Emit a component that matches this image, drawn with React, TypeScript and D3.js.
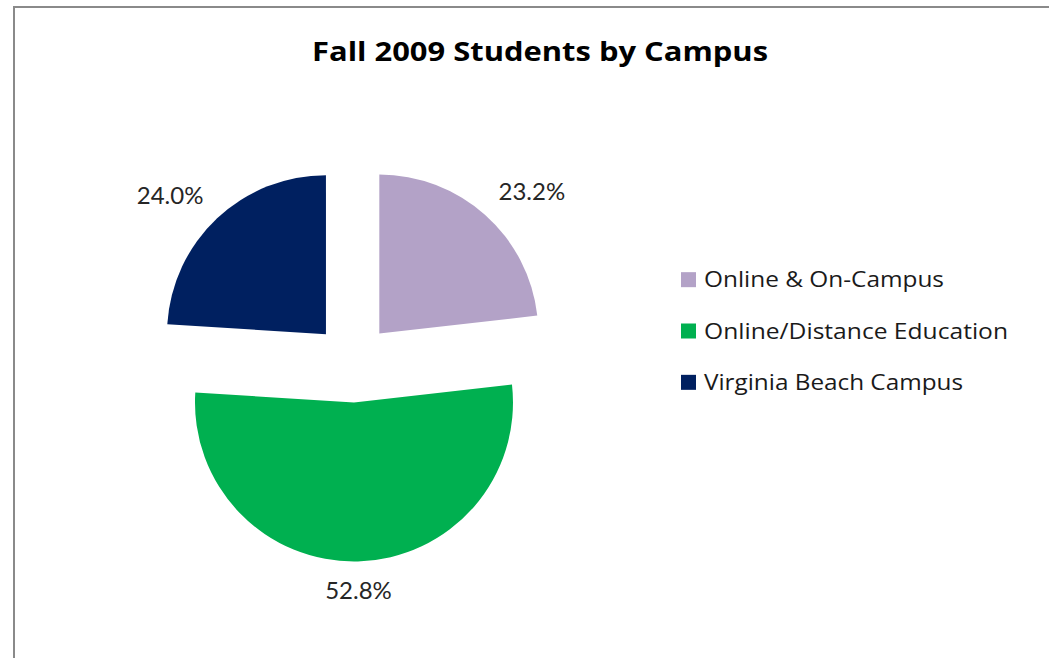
import React from "react";
import * as d3 from "d3";

const categories = ["Online & On-Campus", "Online/Distance Education", "Virginia Beach Campus"];
const values = [23.2, 52.8, 24.0];
const colors = ["#B3A2C7", "#00B050", "#002060"];
const labels = ["23.2%", "52.8%", "24.0%"];
const title = "Fall 2009 Students by Campus";

const W = 1049;
const H = 658;

export default function App() {
  const cx = 353;
  const cy = 363;
  const r = 159;
  const explode = 39.5;
  const pad = 20;

  const pie = d3.pie<number>().sort(null).value((d) => d)(values);
  const arc = d3.arc<d3.PieArcDatum<number>>().innerRadius(0).outerRadius(r);

  const legendY = d3.scaleBand<number>().domain(d3.range(categories.length)).range([254, 408]);
  const legendLen = [240, 304, 259];

  return (
    <div style={{ position: "absolute", left: 0, top: 0, width: W, height: H, background: "#fff" }}>
      <svg width={W} height={H} style={{ display: "block", fontFamily: "'Open Sans', Lato, sans-serif" }}>
        <rect x={0} y={0} width={W} height={H} fill="#fff" />
        <rect x={14} y={7} width={W + 20} height={H + 20} fill="none" stroke="#8a8a8a" strokeWidth={2} />
        <text x={312} y={61} fontSize={27} fontWeight="bold" fill="#000" textLength={456} lengthAdjust="spacingAndGlyphs">
          {title}
        </text>
        {pie.map((p, i) => {
          const mid = (p.startAngle + p.endAngle) / 2;
          const dx = Math.sin(mid);
          const dy = -Math.cos(mid);
          const ox = cx + dx * explode;
          const oy = cy + dy * explode;
          const ex = ox + dx * (r + pad);
          const ey = oy + dy * (r + pad);
          const anchor = dx > 0.3 ? "start" : dx < -0.3 ? "end" : "middle";
          const by = dy < -0.3 ? ey : dy > 0.3 ? ey + 17.5 : ey + 9;
          return (
            <g key={i}>
              <path d={arc(p) || ""} transform={`translate(${ox},${oy})`} fill={colors[i]} />
              <text x={ex} y={by} textAnchor={anchor} fontSize={24} fill="#262626" fontFamily="Lato, 'Open Sans', sans-serif">
                {labels[i]}
              </text>
            </g>
          );
        })}
        {categories.map((c, i) => {
          const y = (legendY(i) || 0) + legendY.bandwidth() / 2;
          return (
            <g key={c}>
              <rect x={681} y={y - 7.5} width={15} height={15} fill={colors[i]} />
              <text x={704} y={y + 7.5} fontSize={22} fill="#1a1a1a" textLength={legendLen[i]} lengthAdjust="spacingAndGlyphs">
                {c}
              </text>
            </g>
          );
        })}
      </svg>
    </div>
  );
}
